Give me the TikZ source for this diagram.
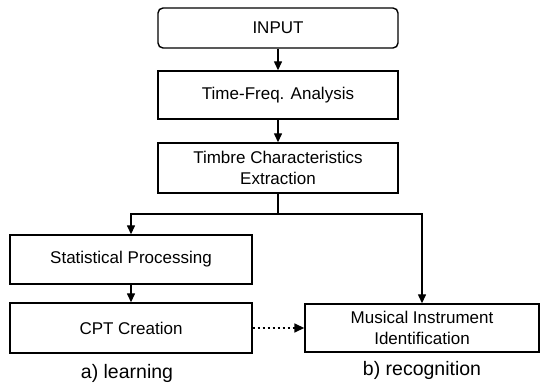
\documentclass[tikz,border=0pt]{standalone}
\usepackage{fontspec}
\setmainfont{Liberation Sans}
\usetikzlibrary{arrows.meta}
\tikzset{
  stepbox/.style={draw, line width=1.4pt, inner sep=0pt, align=center, font=\fontsize{17}{21}\selectfont},
  flow/.style={line width=1.4pt, -{Triangle[length=9pt,width=8pt]}},
  caption/.style={font=\fontsize{19.5}{23}\selectfont, inner sep=0pt}
}
\begin{document}
\begin{tikzpicture}[x=1pt,y=-1pt]
  \useasboundingbox (0,0) rectangle (541,387);
  \node[stepbox, rounded corners=5pt, minimum width=240pt, minimum height=40pt] (input) at (278,28) {INPUT};
  \node[stepbox, minimum width=240pt, minimum height=48pt] (tf) at (278,95) {Time-Freq. Analysis};
  \node[stepbox, minimum width=240pt, minimum height=50pt] (timbre) at (278,168) {Timbre Characteristics\\Extraction};
  \node[stepbox, minimum width=242pt, minimum height=49pt] (stat) at (131,259.5) {Statistical Processing};
  \node[stepbox, minimum width=242pt, minimum height=50pt] (cpt) at (131,328) {CPT Creation};
  \node[stepbox, minimum width=234pt, minimum height=48pt] (mus) at (422,328) {Musical Instrument\\Identification};
  \node[caption] (capa) at (127,373) {a) learning};
  \node[caption] (capb) at (422,370) {b) recognition};

  \coordinate (split) at (278,214);
  \draw[flow] (input) -- (tf);
  \draw[flow] (tf) -- (timbre);
  \draw[line width=1.4pt] (timbre.south) -- (split);
  \draw[flow] (split) -| (stat.north);
  \draw[flow] (split) -| (mus.north);
  \draw[flow] (stat) -- (cpt);
  \draw[line width=1.6pt, dash pattern=on 2.5pt off 2.5pt, -{Triangle[length=10pt,width=9pt]}] (cpt.east) -- (mus.west);
\end{tikzpicture}
\end{document}
